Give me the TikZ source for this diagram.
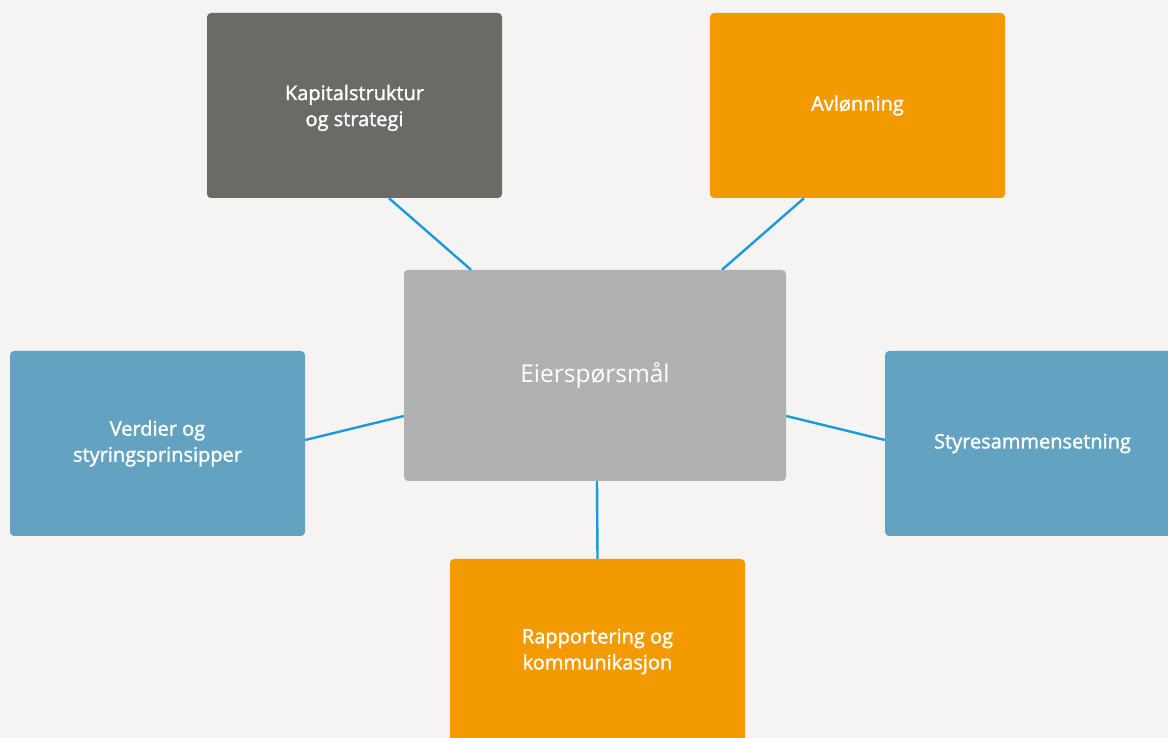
\documentclass[tikz,border=0pt]{standalone}
\usepackage{fontspec}
\setmainfont{Open Sans}
\newfontfamily\medfont{Open Sans}[FakeBold=1.6]
\definecolor{bg}{HTML}{F5F4F2}
\definecolor{darkg}{HTML}{6B6A67}
\definecolor{lightg}{HTML}{B0B1B3}
\definecolor{orng}{HTML}{F39A00}
\definecolor{blu}{HTML}{64A2C2}
\definecolor{lnk}{HTML}{1A9AD8}
\begin{document}
\begin{tikzpicture}[x=1pt,y=1pt,
  box/.style={rounded corners=4pt, inner sep=0pt, minimum width=295pt, minimum height=185pt,
    text=white, align=center, font=\medfont\fontsize{20}{26}\selectfont},
  conn/.style={draw=lnk, line width=2.4pt}]
\fill[bg] (0,0) rectangle (1168,738);
\useasboundingbox (0,0) rectangle (1168,738);
\clip (0,0) rectangle (1168,738);
% y_tikz = 738 - y_px
\node[box, fill=darkg] (kap) at (354.5,632.5) {\\[-6pt]Kapitalstruktur\\og strategi};
\node[box, fill=orng] (avl) at (857.5,632.5) {Avlønning};
\node[box, fill=lightg, minimum width=382pt, minimum height=211pt,
      font=\fontsize{24.5}{30}\selectfont] (ctr) at (595,362.5) {Eierspørsmål};
\node[box, fill=blu] (ver) at (157.5,294.5) {Verdier og\\styringsprinsipper};
\node[box, fill=blu] (sty) at (1032.5,294.5) {Styresammensetning};
\node[box, fill=orng] (rap) at (597.5,86.5) {Rapportering og\\kommunikasjon};
\draw[conn] ([xshift=34.5pt]kap.south) -- ([xshift=-124pt]ctr.north);
\draw[conn] ([xshift=-53.5pt]avl.south) -- ([xshift=127pt]ctr.north);
\draw[conn] ([yshift=3.5pt]ver.east) -- ([yshift=-40.5pt]ctr.west);
\draw[conn] ([yshift=-40.5pt]ctr.east) -- ([yshift=3.5pt]sty.west);
\draw[conn] ([xshift=2pt]ctr.south) -- (rap.north);
\end{tikzpicture}
\end{document}
